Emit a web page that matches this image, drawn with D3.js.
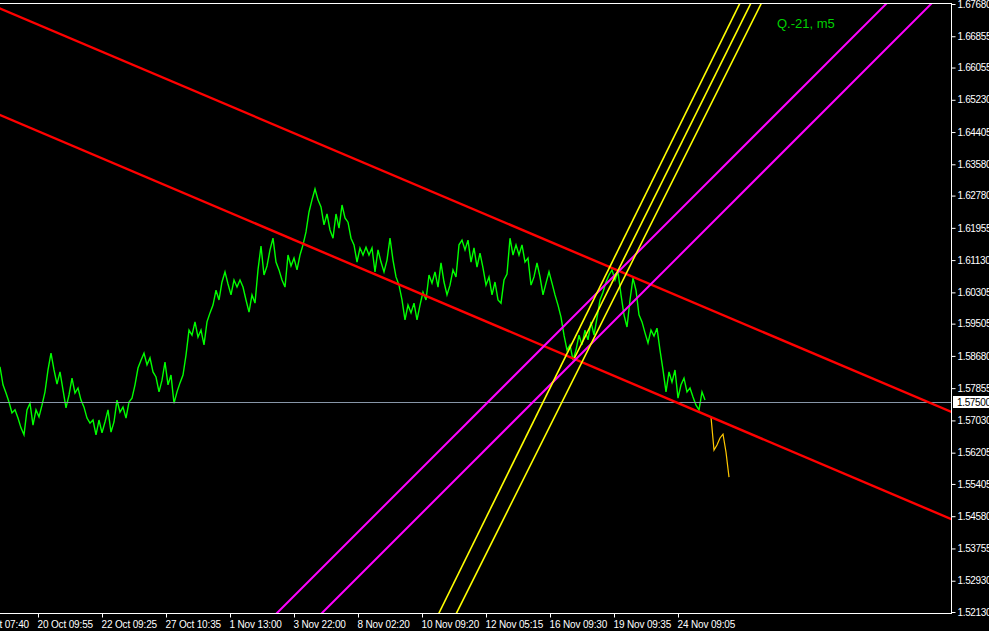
<!DOCTYPE html>
<html><head><meta charset="utf-8">
<script src="https://cdn.jsdelivr.net/npm/d3@7"></script>
<style>
html,body{margin:0;padding:0;background:#000;overflow:hidden}
svg{display:block}
</style></head><body>
<svg id="c" width="989" height="631"></svg>
<script>
// ---------- data ----------
const chartTitle = "Q.-21, m5";
const priceTicks = [1.67680,1.66855,1.66055,1.65230,1.64405,1.63580,1.62780,1.61955,1.61130,1.60305,
                    1.59505,1.58680,1.57855,1.57030,1.56205,1.55405,1.54580,1.53755,1.52930,1.52130];
const timeLabels = ["18 Oct 07:40","20 Oct 09:55","22 Oct 09:25","27 Oct 10:35","1 Nov 13:00","3 Nov 22:00",
                    "8 Nov 02:20","10 Nov 09:20","12 Nov 05:15","16 Nov 09:30","19 Nov 09:35","24 Nov 09:05"];
const currentPrice = 1.57500;
const closes = [
1.5840,1.5794,1.5773,1.5750,1.5722,1.5730,1.5709,1.5684,1.5666,1.5730,1.5747,1.5691,
1.5730,1.5712,1.5742,1.5776,1.5832,1.5875,1.5832,1.5796,1.5827,1.5781,1.5735,1.5768,
1.5811,1.5773,1.5786,1.5755,1.5737,1.5709,1.5696,1.5704,1.5666,1.5704,1.5671,1.5699,
1.5730,1.5673,1.5699,1.5755,1.5724,1.5737,1.5709,1.5750,1.5760,1.5794,1.5837,1.5857,
1.5875,1.5845,1.5863,1.5827,1.5814,1.5776,1.5806,1.5852,1.5794,1.5819,1.5747,1.5776,
1.5799,1.5819,1.5870,1.5934,1.5921,1.5955,1.5916,1.5934,1.5896,1.5955,1.5978,1.5998,
1.6036,1.6011,1.6057,1.6083,1.6052,1.6024,1.6062,1.6044,1.6062,1.6044,1.6011,1.5980,
1.6024,1.6003,1.6088,1.6149,1.6075,1.6098,1.6139,1.6169,1.6108,1.6088,1.6062,1.6044,
1.6126,1.6098,1.6118,1.6088,1.6126,1.6152,1.6185,1.6236,1.6267,1.6295,1.6267,1.6249,
1.6203,1.6231,1.6190,1.6169,1.6231,1.6195,1.6254,1.6221,1.6210,1.6169,1.6152,1.6108,
1.6144,1.6126,1.6146,1.6126,1.6144,1.6083,1.6139,1.6108,1.6083,1.6113,1.6169,1.6113,
1.6070,1.6049,1.6011,1.5960,1.5998,1.5978,1.6003,1.5960,1.5998,1.6031,1.6011,1.6075,
1.6054,1.6083,1.6044,1.6106,1.6057,1.6024,1.6049,1.6088,1.6070,1.6152,1.6164,1.6139,
1.6164,1.6108,1.6144,1.6095,1.6131,1.6093,1.6049,1.6070,1.6024,1.6057,1.6011,1.6003,
1.6062,1.6077,1.6169,1.6126,1.6152,1.6126,1.6152,1.6108,1.6118,1.6049,1.6070,1.6106,
1.6070,1.6024,1.6054,1.6083,1.6054,1.6024,1.5998,1.5967,1.5921,1.5883,1.5896,1.5857,
1.5883,1.5921,1.5896,1.5934,1.5909,1.5955,1.5921,1.5965,1.6011,1.6031,1.6057,1.6075,
1.6088,1.6062,1.6083,1.6024,1.5973,1.5942,1.6011,1.6067,1.6036,1.5973,1.5955,1.5927,
1.5901,1.5934,1.5919,1.5939,1.5883,1.5832,1.5776,1.5827,1.5801,1.5832,1.5760,1.5794,
1.5811,1.5776,1.5786,1.5763,1.5742,1.5730,1.5776,1.5755
];
const projectionStart = 237;
const projection = [1.5712,1.5627,1.5640,1.5658,1.5668,1.5622,1.5558];

// trend objects: two anchors each [barIndex, price]
const redUpper   = [[0, 1.67565], [317, 1.57252]];
const redLower   = [[0, 1.64841], [317, 1.54508]];
const magentaA   = [[92.33, 1.52104], [295.67, 1.67705]];
const magentaB   = [[107.33, 1.52104], [310.67, 1.67705]];
const yellowA    = [[146.33, 1.52104], [246.67, 1.67705]];
const yellowB    = [[152.17, 1.52104], [253.83, 1.67705]];
const yellowMid  = [[191.5, 1.58626], [250.33, 1.67705]]; // ray from first anchor

// ---------- layout ----------
const W = 989, H = 631;
const plot = {left: 0, right: 951, top: 3, bottom: 613};
const barsVisible = 317;
const x = d3.scaleLinear().domain([0, barsVisible]).range([plot.left, plot.right]);
const y = d3.scaleLinear().domain([1.52130, 1.67680]).range([612, 4]);
const barPx = (plot.right - plot.left) / barsVisible;

const svg = d3.select("#c");
svg.append("rect").attr("width", W).attr("height", H).attr("fill", "#000");

svg.append("defs").append("clipPath").attr("id", "clip")
  .append("rect").attr("x", plot.left).attr("y", plot.top)
  .attr("width", plot.right - plot.left).attr("height", plot.bottom - plot.top);

const g = svg.append("g").attr("clip-path", "url(#clip)");

// price series
const line = d3.line().x((d, i) => x(i)).y(d => y(d));
g.append("path").datum(closes).attr("d", line)
  .attr("fill", "none").attr("stroke", "#00ff00").attr("stroke-width", 1.4)
  .attr("stroke-linejoin", "miter");

// projection (yellow)
const pline = d3.line().x((d, i) => x(projectionStart + i)).y(d => y(d));
g.append("path").datum(projection).attr("d", pline)
  .attr("fill", "none").attr("stroke", "#ffc800").attr("stroke-width", 1.2);

// current price line
g.append("line").attr("x1", plot.left).attr("x2", plot.right)
  .attr("y1", Math.round(y(currentPrice)) + 0.5).attr("y2", Math.round(y(currentPrice)) + 0.5)
  .attr("stroke", "#8796a8").attr("stroke-width", 1);

// trend lines extended
function extended(anchors, ray) {
  const [a, b] = anchors;
  const x1 = x(a[0]), y1 = y(a[1]), x2 = x(b[0]), y2 = y(b[1]);
  const dx = x2 - x1, dy = y2 - y1;
  const t0 = ray ? 0 : -20, t1 = 20;
  return [[x1 + dx * t0, y1 + dy * t0], [x1 + dx * t1, y1 + dy * t1]];
}
const trendDefs = [
  {a: redUpper, c: "#ff0000", w: 2.4},
  {a: redLower, c: "#ff0000", w: 2.4},
  {a: magentaA, c: "#ff00ff", w: 2},
  {a: magentaB, c: "#ff00ff", w: 2},
  {a: yellowA, c: "#ffff00", w: 1.6},
  {a: yellowB, c: "#ffff00", w: 1.6},
  {a: yellowMid, c: "#ffff00", w: 1.6, ray: true}
];
trendDefs.forEach(t => {
  const p = extended(t.a, t.ray);
  g.append("line").attr("x1", p[0][0]).attr("y1", p[0][1]).attr("x2", p[1][0]).attr("y2", p[1][1])
    .attr("stroke", t.c).attr("stroke-width", t.w);
});

// frame
const frame = svg.append("g").attr("stroke", "#fff").attr("stroke-width", 1);
frame.append("line").attr("x1", plot.left).attr("x2", plot.right + 0.5).attr("y1", plot.top + 0.5).attr("y2", plot.top + 0.5);
frame.append("line").attr("x1", plot.right + 0.5).attr("x2", plot.right + 0.5).attr("y1", plot.top).attr("y2", plot.bottom + 1);
frame.append("line").attr("x1", plot.left).attr("x2", plot.right + 0.5).attr("y1", plot.bottom + 0.5).attr("y2", plot.bottom + 0.5);

const font = "'Liberation Sans', Arial, sans-serif";

// right axis
const yAxis = d3.axisRight(y).tickValues(priceTicks).tickFormat(d3.format(".5f"))
  .tickSize(4).tickSizeOuter(0).tickPadding(2);
const ya = svg.append("g").attr("transform", `translate(${plot.right + 0.5},0)`).call(yAxis);
ya.select(".domain").remove();
ya.selectAll("line").attr("stroke", "#fff");
ya.selectAll("text").attr("fill", "#fff").style("font-family", font).style("font-size", "10px")
  .style("letter-spacing", "-0.35px");

// bottom axis
const tickBars = timeLabels.map((_, k) => (-26 + 64 * k) / barPx);
const xAxis = d3.axisBottom(x).tickValues(tickBars).tickFormat((d, i) => timeLabels[i])
  .tickSize(4).tickSizeOuter(0).tickPadding(3);
const xa = svg.append("g").attr("transform", `translate(0,${plot.bottom + 0.5})`).call(xAxis);
xa.select(".domain").remove();
xa.selectAll("line").attr("stroke", "#fff");
xa.selectAll("text").attr("fill", "#fff").attr("text-anchor", "start").attr("dx", -1)
  .style("font-family", font).style("font-size", "10px").style("letter-spacing", "-0.15px");

// current price label
const cy = Math.round(y(currentPrice));
svg.append("rect").attr("x", plot.right + 2).attr("y", cy - 6).attr("width", W - plot.right - 2).attr("height", 12).attr("fill", "#fff");
svg.append("text").attr("x", plot.right + 6).attr("y", cy + 4).text(d3.format(".5f")(currentPrice))
  .attr("fill", "#000").style("font-family", font).style("font-size", "10px").style("letter-spacing", "-0.35px");

// title
svg.append("text").attr("x", 777).attr("y", 28).text(chartTitle)
  .attr("fill", "#00d000").style("font-family", font).style("font-size", "13px");
</script>
</body></html>
